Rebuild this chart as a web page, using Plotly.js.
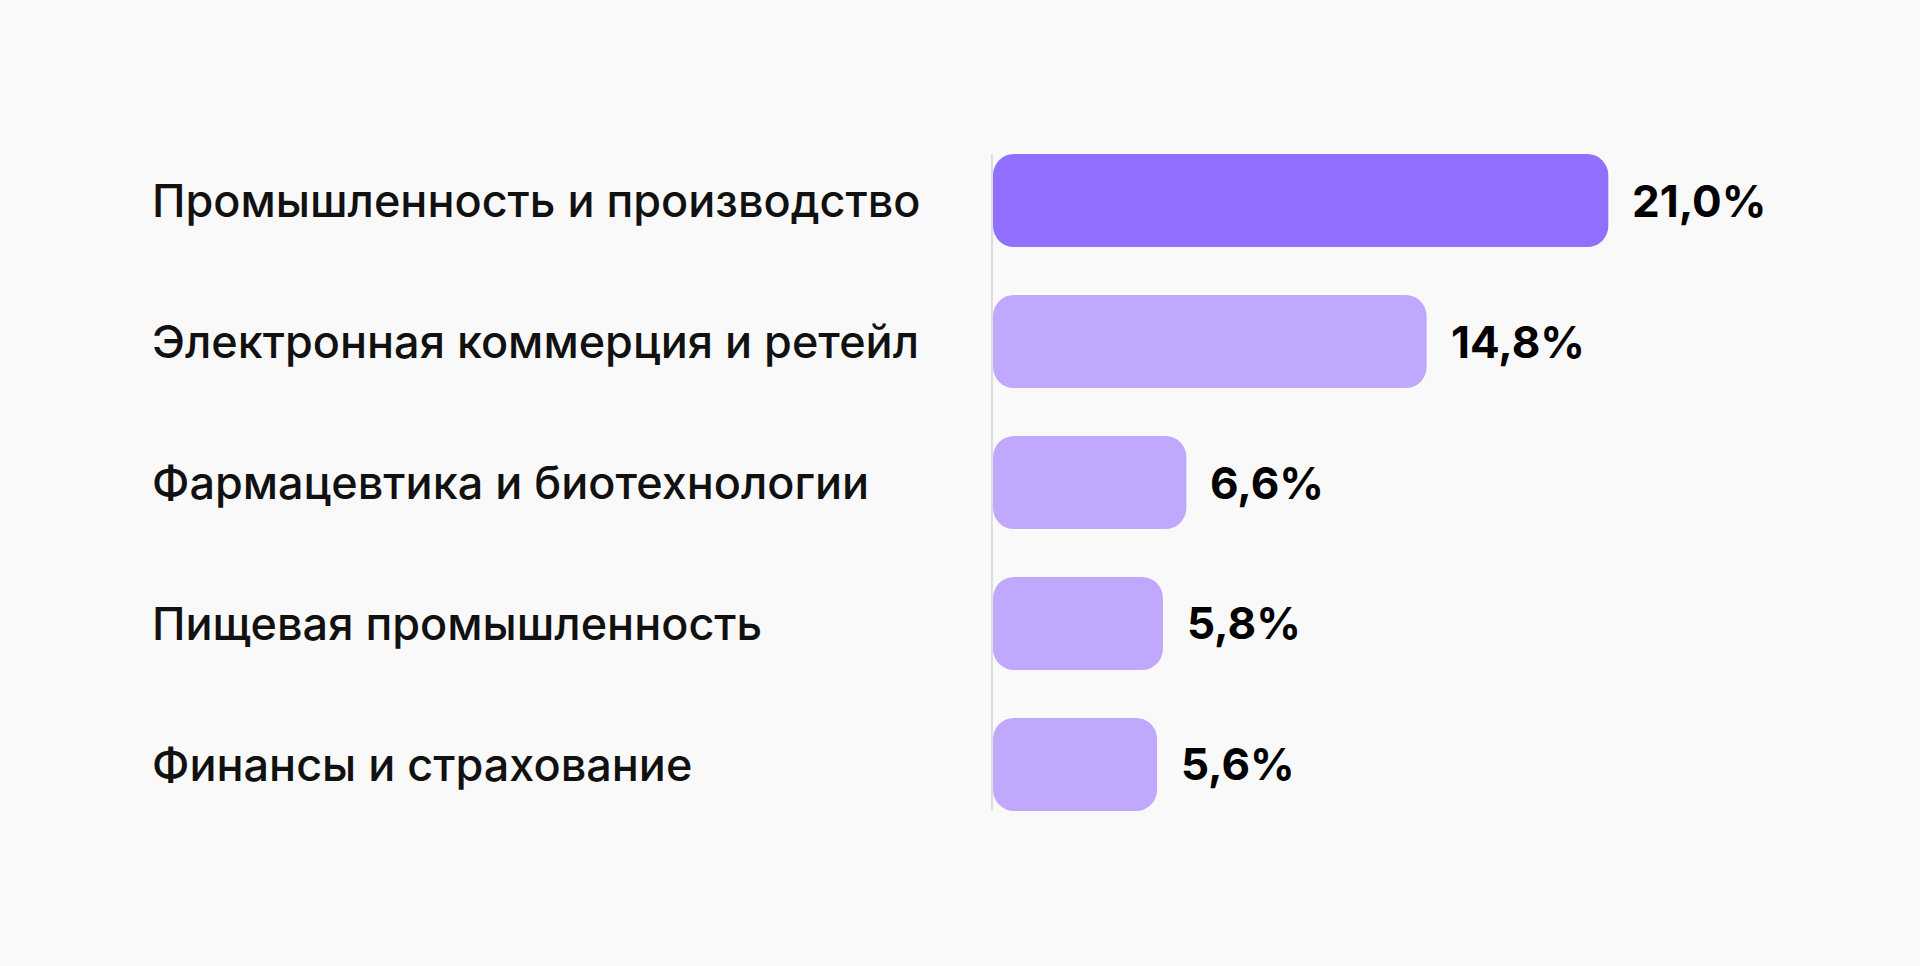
<!DOCTYPE html>
<html>
<head>
<meta charset="utf-8">
<script src="https://cdn.plot.ly/plotly-3.0.1.min.js"></script>
<style>
  html, body { margin: 0; padding: 0; background: #f9f9f9; }
  #graph { width: 1920px; height: 966px; }
</style>
</head>
<body>
<div id="graph"></div>
<script>
// data
var categories = [
  'Промышленность и производство',
  'Электронная коммерция и ретейл',
  'Фармацевтика и биотехнологии',
  'Пищевая промышленность',
  'Финансы и страхование'
];
var values = [21.0, 14.8, 6.6, 5.8, 5.6];
var valueLabels = ['21,0%', '14,8%', '6,6%', '5,8%', '5,6%'];

var barColors = values.map(function(v, i) { return i === 0 ? '#936fff' : '#c0a8ff'; });

// setting an explicit base makes plotly round both ends of the bar
var bars = {
  type: 'bar',
  orientation: 'h',
  y: categories,
  x: values,
  base: values.map(function() { return 0; }),
  marker: { color: barColors, cornerradius: 21, line: { width: 0 } },
  hoverinfo: 'skip'
};

var annotations = [];
categories.forEach(function(c, i) {
  // category name, left aligned
  annotations.push({
    xref: 'paper', yref: 'y',
    x: -0.9590, y: c,
    xanchor: 'left', yanchor: 'middle',
    text: c, showarrow: false,
    font: { family: 'Inter, sans-serif', size: 45, weight: 500, color: '#111111' }
  });
  // value at the end of the bar
  annotations.push({
    xref: 'x', yref: 'y',
    x: values[i], y: c,
    xanchor: 'left', yanchor: 'middle',
    xshift: 22,
    text: '<b>' + valueLabels[i] + '</b>', showarrow: false,
    font: { family: 'Inter, sans-serif', size: 44, color: '#000000' }
  });
});

var layout = {
  width: 1920,
  height: 966,
  paper_bgcolor: '#f9f9f9',
  plot_bgcolor: '#f9f9f9',
  margin: { l: 993, r: 48, t: 154, b: 155 },
  bargap: 0.34,
  showlegend: false,
  xaxis: {
    range: [0, 30],
    visible: false,
    zeroline: false,
    showgrid: false
  },
  yaxis: {
    range: [4.33, -0.33],
    showticklabels: false,
    ticks: '',
    showgrid: false,
    zeroline: false,
    showline: true,
    linecolor: '#dedede',
    linewidth: 2
  },
  annotations: annotations
};

Plotly.newPlot('graph', [bars], layout, { staticPlot: true });
</script>
</body>
</html>
